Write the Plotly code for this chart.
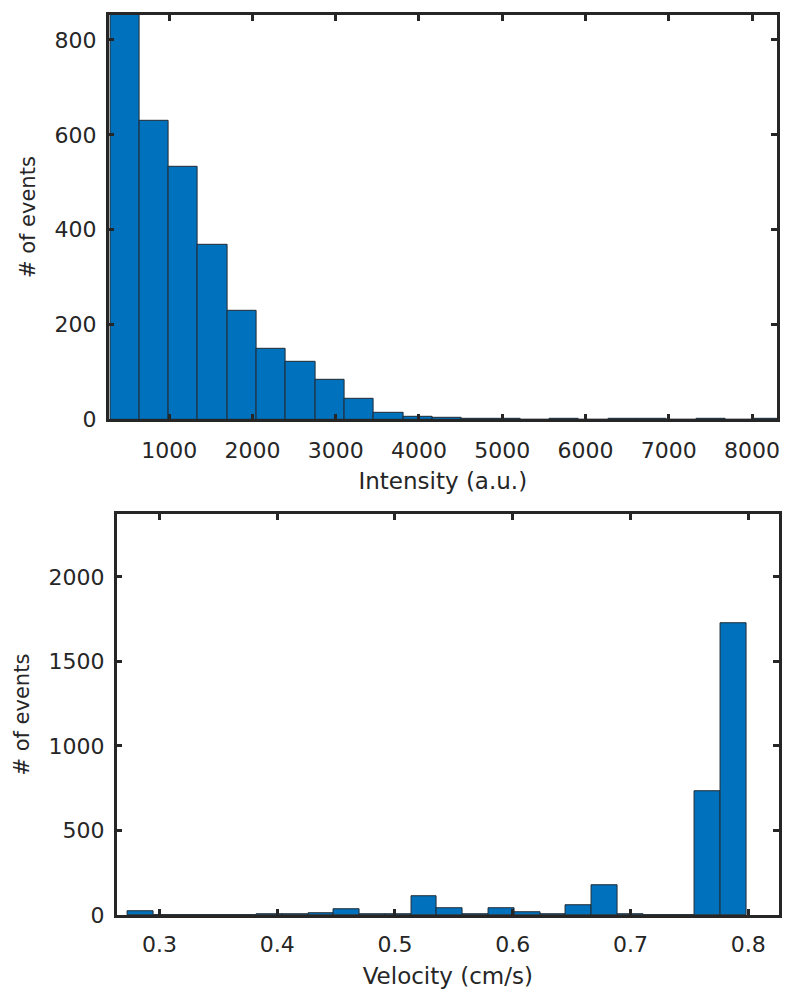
import plotly.graph_objects as go

# ---- Top histogram: Intensity ----
int_edge0 = 290.0
int_binw = 352.0
int_counts = [853, 629, 532, 368, 229, 150, 121, 83, 44, 14, 5, 3, 2, 1, 0, 1, 0, 1, 1, 0, 1, 0, 1]
int_xticks = [1000, 2000, 3000, 4000, 5000, 6000, 7000, 8000]
int_yticks = [0, 200, 400, 600, 800]

# ---- Bottom histogram: Velocity ----
vel_edge0 = 0.2732
vel_binw = 0.02188
vel_counts = [25, 0, 0, 0, 0, 3, 2, 10, 35, 2, 3, 111, 41, 2, 39, 16, 5, 57, 178, 2, 0, 0, 734, 1723]
vel_xticks = [0.3, 0.4, 0.5, 0.6, 0.7, 0.8]
vel_yticks = [0, 500, 1000, 1500, 2000]

int_centers = [int_edge0 + int_binw * (i + 0.5) for i in range(len(int_counts))]
vel_centers = [vel_edge0 + vel_binw * (i + 0.5) for i in range(len(vel_counts))]

W, H = 787, 1002
BAR = "#0072BD"
EDGE = "#1f2a33"
AX = "#262626"
FONT = "DejaVu Sans"
TICK = 22

fig = go.Figure()
fig.add_trace(go.Bar(x=int_centers, y=int_counts, width=int_binw,
                     marker=dict(color=BAR, line=dict(color=EDGE, width=1)),
                     xaxis="x", yaxis="y", showlegend=False))
fig.add_trace(go.Bar(x=vel_centers, y=vel_counts, width=vel_binw,
                     marker=dict(color=BAR, line=dict(color=EDGE, width=1)),
                     xaxis="x2", yaxis="y2", showlegend=False))

common = dict(showgrid=False, zeroline=False, showline=True, linecolor=AX, linewidth=2.5,
              mirror="ticks", ticks="inside", ticklen=6, tickwidth=2.5, tickcolor=AX,
              tickfont=dict(family=FONT, size=TICK, color=AX))
xtfont = dict(family=FONT, size=23, color=AX)
ytfont = dict(family=FONT, size=21, color=AX)

fig.update_layout(
    width=W, height=H,
    margin=dict(l=0, r=0, t=0, b=0),
    paper_bgcolor="white", plot_bgcolor="white",
    bargap=0,
    xaxis=dict(domain=[109 / W, 780 / W], range=[272, 8300], tickvals=int_xticks,
               anchor="y", ticklabelstandoff=9,
               title=dict(text="Intensity (a.u.)", font=xtfont, standoff=12),
               **common),
    yaxis=dict(domain=[1 - 425 / H, 1 - 15 / H], range=[0, 853], tickvals=int_yticks,
               anchor="x", ticklabelstandoff=5,
               title=dict(text="# of events", font=ytfont, standoff=14),
               **common),
    xaxis2=dict(domain=[117 / W, 782 / W], range=[0.2636, 0.8262], tickvals=vel_xticks,
                anchor="y2", tickformat=".1f", ticklabelstandoff=8,
                title=dict(text="Velocity (cm/s)", font=xtfont, standoff=12),
                **common),
    yaxis2=dict(domain=[1 - 927 / H, 1 - 521 / H], range=[0, 2370], tickvals=vel_yticks,
                anchor="x2", ticklabelstandoff=5,
                title=dict(text="# of events", font=ytfont, standoff=14),
                **common),
)

fig.write_html("out.html")
